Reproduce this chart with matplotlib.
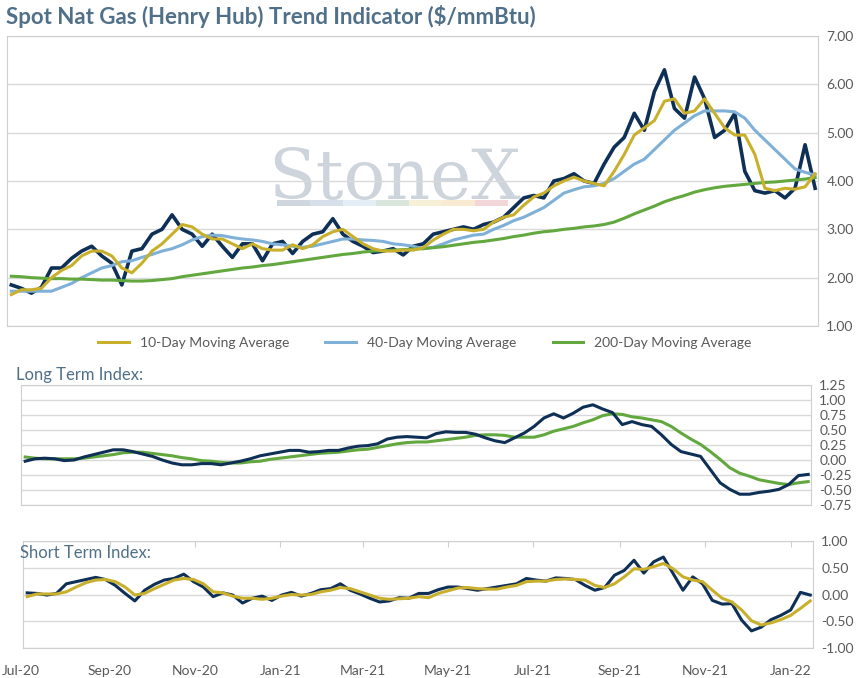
import matplotlib
matplotlib.use("Agg")
import matplotlib.pyplot as plt
import matplotlib.dates as mdates
import matplotlib.transforms as mtrans
from matplotlib.patches import Rectangle
import pandas as pd

spot = [1.85,1.78,1.68,1.8,2.2,2.2,2.4,2.55,2.65,2.45,2.3,1.85,2.55,2.6,2.9,3.0,3.3,3.0,2.9,2.65,
        2.9,2.65,2.42,2.7,2.7,2.35,2.7,2.75,2.5,2.75,2.9,2.95,3.22,2.9,2.75,2.65,2.52,2.55,2.6,2.47,
        2.65,2.7,2.9,2.95,3.0,3.05,3.0,3.1,3.15,3.25,3.45,3.65,3.7,3.65,4.0,4.05,4.15,4.0,3.95,4.35,
        4.7,4.9,5.4,5.05,5.85,6.3,5.5,5.3,6.15,5.7,4.9,5.05,5.4,4.2,3.8,3.75,3.8,3.65,3.85,4.75,3.85]
ma10 = [1.65,1.75,1.75,1.78,2.0,2.15,2.25,2.45,2.55,2.55,2.45,2.2,2.1,2.3,2.55,2.7,2.9,3.1,3.05,2.9,
        2.8,2.8,2.7,2.6,2.7,2.6,2.57,2.57,2.68,2.6,2.68,2.85,2.95,3.0,2.85,2.7,2.6,2.55,2.55,2.57,
        2.57,2.62,2.78,2.9,3.0,3.0,2.97,3.0,3.15,3.25,3.3,3.5,3.67,3.75,3.9,4.0,4.08,4.0,3.95,3.9,
        4.2,4.55,4.95,5.1,5.25,5.65,5.7,5.4,5.45,5.7,5.4,5.1,4.95,4.95,4.55,3.85,3.8,3.85,3.83,3.88,4.15]
ma40 = [1.72,1.72,1.72,1.72,1.72,1.8,1.88,2.0,2.1,2.2,2.25,2.33,2.35,2.42,2.48,2.55,2.6,2.68,2.78,2.85,
        2.88,2.87,2.83,2.8,2.78,2.75,2.7,2.68,2.65,2.63,2.65,2.7,2.75,2.8,2.8,2.78,2.77,2.75,2.7,2.68,
        2.65,2.6,2.63,2.7,2.78,2.83,2.88,2.9,3.0,3.08,3.18,3.25,3.35,3.45,3.6,3.75,3.82,3.88,3.9,3.95,
        4.05,4.2,4.35,4.45,4.65,4.85,5.05,5.2,5.35,5.45,5.45,5.45,5.43,5.3,5.05,4.85,4.65,4.45,4.25,4.18,4.12]
ma200 = [2.03,2.02,2.0,1.99,1.98,1.98,1.97,1.97,1.96,1.95,1.95,1.94,1.93,1.93,1.94,1.96,1.98,2.02,2.05,2.08,
         2.11,2.14,2.17,2.2,2.22,2.25,2.27,2.3,2.33,2.36,2.39,2.42,2.45,2.48,2.5,2.53,2.55,2.56,2.57,2.58,
         2.59,2.6,2.62,2.64,2.67,2.7,2.73,2.75,2.78,2.81,2.85,2.88,2.92,2.95,2.97,3.0,3.02,3.05,3.07,3.1,
         3.15,3.23,3.32,3.4,3.48,3.57,3.64,3.7,3.77,3.82,3.86,3.89,3.91,3.93,3.95,3.97,3.98,4.0,4.02,4.04,4.07]
lt_index = [-0.02,0.02,0.03,0.02,-0.01,0.0,0.05,0.09,0.13,0.17,0.17,0.14,0.1,0.06,0.0,-0.05,-0.08,-0.08,-0.06,-0.06,
            -0.08,-0.05,-0.02,0.02,0.07,0.1,0.13,0.16,0.16,0.13,0.14,0.16,0.16,0.2,0.23,0.24,0.27,0.35,0.38,0.39,
            0.38,0.37,0.44,0.47,0.46,0.46,0.43,0.37,0.32,0.29,0.37,0.45,0.56,0.7,0.77,0.7,0.78,0.88,0.92,0.85,
            0.79,0.59,0.64,0.59,0.56,0.42,0.26,0.14,0.1,0.06,-0.16,-0.38,-0.49,-0.57,-0.57,-0.54,-0.52,-0.49,-0.41,-0.26,-0.24]
lt_signal = [0.05,0.03,0.02,0.02,0.02,0.02,0.03,0.05,0.07,0.09,0.12,0.13,0.13,0.11,0.09,0.07,0.04,0.02,-0.01,-0.02,
             -0.04,-0.05,-0.05,-0.03,-0.02,0.01,0.03,0.05,0.07,0.09,0.11,0.12,0.13,0.15,0.17,0.18,0.21,0.24,0.27,0.29,
             0.3,0.3,0.32,0.34,0.36,0.38,0.41,0.42,0.42,0.41,0.38,0.38,0.38,0.42,0.48,0.52,0.56,0.62,0.67,0.74,
             0.77,0.76,0.72,0.7,0.67,0.64,0.56,0.45,0.35,0.26,0.14,0.01,-0.13,-0.22,-0.27,-0.33,-0.36,-0.39,-0.41,-0.38,-0.36]
st_index = [0.03,0.02,-0.01,0.02,0.2,0.24,0.28,0.32,0.28,0.17,0.02,-0.12,0.08,0.19,0.27,0.3,0.38,0.24,0.14,-0.04,
            0.03,-0.01,-0.16,-0.07,-0.03,-0.11,-0.01,0.04,-0.03,0.02,0.09,0.11,0.2,0.08,0.01,-0.07,-0.14,-0.12,-0.06,-0.07,
            0.02,0.02,0.09,0.14,0.14,0.11,0.08,0.11,0.14,0.17,0.2,0.3,0.27,0.25,0.31,0.3,0.28,0.17,0.08,0.13,
            0.36,0.45,0.64,0.4,0.61,0.7,0.39,0.08,0.33,0.2,-0.11,-0.18,-0.17,-0.48,-0.68,-0.61,-0.47,-0.39,-0.29,0.04,-0.01]
st_signal = [-0.04,0.01,0.01,0.01,0.05,0.14,0.22,0.27,0.28,0.24,0.14,-0.01,0.02,0.11,0.19,0.27,0.3,0.28,0.2,0.05,
             0.03,-0.03,-0.07,-0.07,-0.09,-0.07,-0.03,0.0,-0.01,0.0,0.05,0.08,0.13,0.11,0.05,-0.01,-0.07,-0.09,-0.08,-0.07,
             -0.04,-0.06,0.02,0.07,0.12,0.13,0.11,0.1,0.1,0.14,0.17,0.24,0.25,0.25,0.28,0.29,0.28,0.27,0.17,0.13,
             0.2,0.33,0.48,0.47,0.52,0.58,0.48,0.33,0.27,0.24,0.08,-0.07,-0.14,-0.29,-0.49,-0.57,-0.53,-0.47,-0.39,-0.26,-0.12]
month_ticks = ["2020-07-01","2020-09-01","2020-11-01","2021-01-01","2021-03-01","2021-05-01",
               "2021-07-01","2021-09-01","2021-11-01","2022-01-01"]

dates = pd.date_range("2020-07-04", periods=len(spot), freq="7D")
NAVY, YEL, LBLUE, GRN = "#0e2f56", "#c9b02c", "#7eb0d8", "#62a83e"
GRID, TXT, TITLE = "#d9d9d9", "#595959", "#4f7088"
plt.rcParams['font.family'] = ['Lato', 'DejaVu Sans']

fig = plt.figure(figsize=(8.66, 6.78), dpi=100)
W, H = 866, 678
def ax_at(l, t, r, b):
    return fig.add_axes([l/W, 1-b/H, (r-l)/W, (b-t)/H])

xlim = (pd.Timestamp("2020-07-01"), pd.Timestamp("2022-01-17"))
ticks = [pd.Timestamp(m) for m in month_ticks]

def style(ax, ylim, yticks):
    ax.set_xlim(*xlim)
    ax.set_ylim(*ylim)
    ax.set_yticks(yticks)
    ax.yaxis.tick_right()
    ax.set_yticklabels([f"{v:.2f}" for v in yticks], color=TXT, fontsize=10)
    ax.tick_params(axis='y', length=0, pad=6)
    ax.grid(axis='y', color=GRID, lw=1)
    ax.set_axisbelow(True)
    for s in ax.spines.values():
        s.set_color("#cfcfcf")
    ax.set_xticks(ticks)

ax1 = ax_at(7, 36, 818, 326)
style(ax1, (1, 7), [1, 2, 3, 4, 5, 6, 7])
ax1.tick_params(axis='x', length=0, labelbottom=False)
ax1.plot(dates, spot, color=NAVY, lw=2.6)
ax1.plot(dates, ma40, color=LBLUE, lw=2.2, label="40-Day Moving Average")
ax1.plot(dates, ma200, color=GRN, lw=2.2, label="200-Day Moving Average")
ax1.plot(dates, ma10, color=YEL, lw=2.2, label="10-Day Moving Average")
ax1.text(0.478, 0.505, "StoneX", transform=ax1.transAxes, fontsize=50, family="DejaVu Serif",
         color="#cdd4db", ha="center", va="center", zorder=0.5)
bar_cols = ["#cfd6de", "#d7e0ea", "#e3eef6", "#d8e6dc", "#f6f1d6", "#f9ead2", "#f2d6d8"]
for k, c in enumerate(bar_cols):
    ax1.add_patch(Rectangle(((277 - 7 + k*33)/811, (326-206)/290), 33/811, 6/290,
                            transform=ax1.transAxes, color=c, lw=0, zorder=0.5))
h, l = ax1.get_legend_handles_labels()
order = [2, 0, 1]
fig.legend([h[i] for i in order], [l[i] for i in order], loc="center", ncol=3,
           bbox_to_anchor=(425/W, 1-343/H), frameon=False, fontsize=10, labelcolor=TXT,
           handlelength=2.2, columnspacing=2.6)
fig.text(6/W, 1-17/H, "Spot Nat Gas (Henry Hub) Trend Indicator ($/mmBtu)", fontsize=16,
         fontweight='bold', color=TITLE, va="center")

ax2 = ax_at(21, 385, 811, 505)
style(ax2, (-0.75, 1.25), [-0.75, -0.5, -0.25, 0, 0.25, 0.5, 0.75, 1.0, 1.25])
ax2.tick_params(axis='x', length=0, labelbottom=False)
ax2.plot(dates, lt_signal, color=GRN, lw=2.2)
ax2.plot(dates, lt_index, color=NAVY, lw=2.2)
fig.text(16/W, 1-375/H, "Long Term Index:", fontsize=12, color=TITLE, va="center")

ax3 = ax_at(23, 541, 813, 648)
style(ax3, (-1, 1), [-1, -0.5, 0, 0.5, 1])
ax3.plot(dates, st_index, color=NAVY, lw=2.2)
ax3.plot(dates, st_signal, color=YEL, lw=2.2)
ax3.xaxis.set_major_formatter(mdates.DateFormatter("%b-%y"))
ax3.tick_params(axis='x', which='both', bottom=False, top=True, direction='in', length=4,
                color="#cfcfcf", labelsize=10, labelcolor=TXT, pad=12)
ax3.tick_params(axis='x', labelbottom=True, labeltop=False)
fig.canvas.draw()
lbl0 = ax3.get_xticklabels()[0]
lbl0.set_ha("left")
lbl0.set_transform(lbl0.get_transform() + mtrans.ScaledTranslation(-21/100, 0, fig.dpi_scale_trans))
fig.text(20/W, 1-553/H, "Short Term Index:", fontsize=12, color=TITLE, va="center")

fig.savefig("out.png", dpi=100)
